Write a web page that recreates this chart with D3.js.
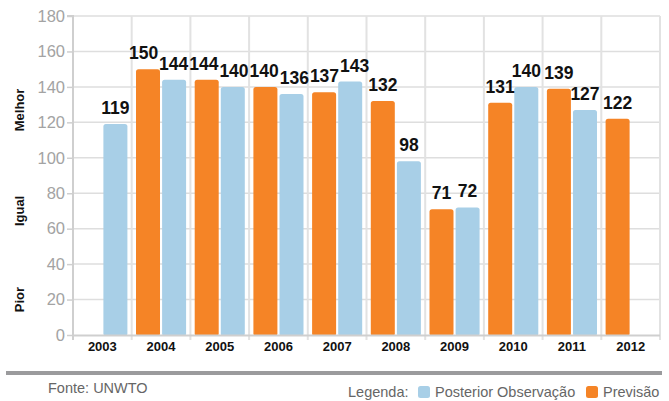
<!DOCTYPE html>
<html><head><meta charset="utf-8">
<script src="https://cdn.jsdelivr.net/npm/d3@7"></script>
<style>
html,body{margin:0;padding:0;background:#fff;}
text{font-family:"Liberation Sans",Arial,Helvetica,sans-serif;}
</style></head>
<body><svg id="c" width="669" height="401"></svg>
<script>
const years = ["2003","2004","2005","2006","2007","2008","2009","2010","2011","2012"];
const previsao = [null,150,144,140,137,132,71,131,139,122];
const observacao = [119,144,140,136,143,98,72,140,127,null];
const yTicks = [0,20,40,60,80,100,120,140,160,180];
const sideLabels = [["Melhor",127],["Igual",70],["Pior",20]];
const seriesNames = ["Posterior Observação","Previsão"];

const colPrev = "#f58426", colObs = "#a8cfe7";
const svg = d3.select("#c");
const L = 73, R = 660, T = 16, B = 335;
const x = d3.scaleBand().domain(years).range([L, R]);
const y = d3.scaleLinear().domain([0, 180]).range([B, T]);
const inner = d3.scaleBand().domain(["prev","obs"]).range([4.3, x.bandwidth()-4.3]).paddingInner(0.08);

// horizontal grid
svg.append("g").selectAll("line").data(yTicks.slice(1)).join("line")
  .attr("x1", L).attr("x2", R).attr("y1", d=>y(d)).attr("y2", d=>y(d))
  .attr("stroke", "#dedede").attr("stroke-width", 1.5);
// vertical grid
const bounds = years.map(d=>x(d)).concat([R]);
svg.append("g").selectAll("line").data(bounds.slice(1)).join("line")
  .attr("x1", d=>d).attr("x2", d=>d).attr("y1", T).attr("y2", B+5)
  .attr("stroke", "#e2e2e2").attr("stroke-width", 2);

// y axis
const yAxis = d3.axisLeft(y).tickValues(yTicks).tickSize(6).tickPadding(2);
const ga = svg.append("g").attr("transform", `translate(${L},0)`).call(yAxis);
ga.select(".domain").attr("stroke", "#cfcfcf").attr("stroke-width", 2).attr("d", `M-6,${T}H0V${B+5}`);
ga.selectAll(".tick line").attr("stroke", "#cfcfcf").attr("stroke-width", 1.5);
ga.selectAll(".tick text").attr("fill", "#a3a3a3").style("font-size", "16.5px")
  .style("font-family", "'Liberation Sans',Arial,sans-serif");

// bars
const data = [];
years.forEach((yr, i) => {
  if (previsao[i] != null) data.push({yr, k:"prev", v:previsao[i]});
  if (observacao[i] != null) data.push({yr, k:"obs", v:observacao[i]});
});
svg.append("g").selectAll("rect").data(data).join("rect")
  .attr("x", d=>x(d.yr)+inner(d.k)).attr("width", inner.bandwidth())
  .attr("y", d=>y(d.v)).attr("height", d=>B - y(d.v) + 1)
  .attr("rx", 2.5).attr("fill", d=>d.k==="prev"?colPrev:colObs);

// x axis line
svg.append("line").attr("x1", L).attr("x2", R).attr("y1", B+0.5).attr("y2", B+0.5)
  .attr("stroke", "#cfcfcf").attr("stroke-width", 2);
svg.append("g").selectAll("text").data(years).join("text")
  .attr("x", d=>x(d)+x.bandwidth()/2).attr("y", 351)
  .attr("text-anchor", "middle").attr("font-size", 13).attr("font-weight", "bold")
  .attr("fill", "#111").text(d=>d);

// value labels
const lg = svg.append("g");
const labs = data.map(d => ({...d, cx: x(d.yr)+inner(d.k)+inner.bandwidth()/2, by: y(d.v)-10}));
const tn = lg.selectAll("text").data(labs).join("text")
  .attr("font-size", 17.5).attr("font-weight", "bold").attr("fill", "#111")
  .attr("text-anchor", "middle").text(d=>d.v);
tn.each(function(d){ d.w = this.getComputedTextLength(); });
// resolve overlaps: spread horizontally, raise the taller bar's label a little
for (let it=0; it<20; it++) {
  for (let i=0;i<labs.length-1;i++){
    const a=labs[i], b=labs[i+1];
    if (Math.abs(a.by-b.by) < 13) {
      const need = (a.w+b.w)/2 + 1 - (b.cx - a.cx);
      if (need > 0) { a.cx -= need/2; b.cx += need/2; }
    }
  }
}
tn.attr("x", d=>d.cx).attr("y", d=>d.by);

// side labels
svg.append("g").selectAll("text").data(sideLabels).join("text")
  .attr("transform", d=>`translate(24,${y(d[1])}) rotate(-90)`)
  .attr("text-anchor", "middle").attr("font-size", 13).attr("font-weight", "bold")
  .attr("fill", "#111").text(d=>d[0]);

// bottom rule
svg.append("rect").attr("x", 6).attr("y", 371).attr("width", 656).attr("height", 4).attr("fill", "#9b9b9d");

svg.append("text").attr("x", 48).attr("y", 393).attr("font-size", 14.5).attr("fill", "#666")
  .text("Fonte: UNWTO");

// legend
const leg = svg.append("g");
leg.append("text").attr("x", 348).attr("y", 397).attr("font-size", 14.5).attr("fill", "#666").text("Legenda:");
const items = [[seriesNames[0], colObs, 418], [seriesNames[1], colPrev, 586]];
items.forEach(([name, col, sx]) => {
  leg.append("rect").attr("x", sx).attr("y", 386).attr("width", 12).attr("height", 12).attr("rx", 2.5).attr("fill", col);
  leg.append("text").attr("x", sx+17).attr("y", 397).attr("font-size", 14.5).attr("fill", "#666").text(name);
});
</script></body></html>
